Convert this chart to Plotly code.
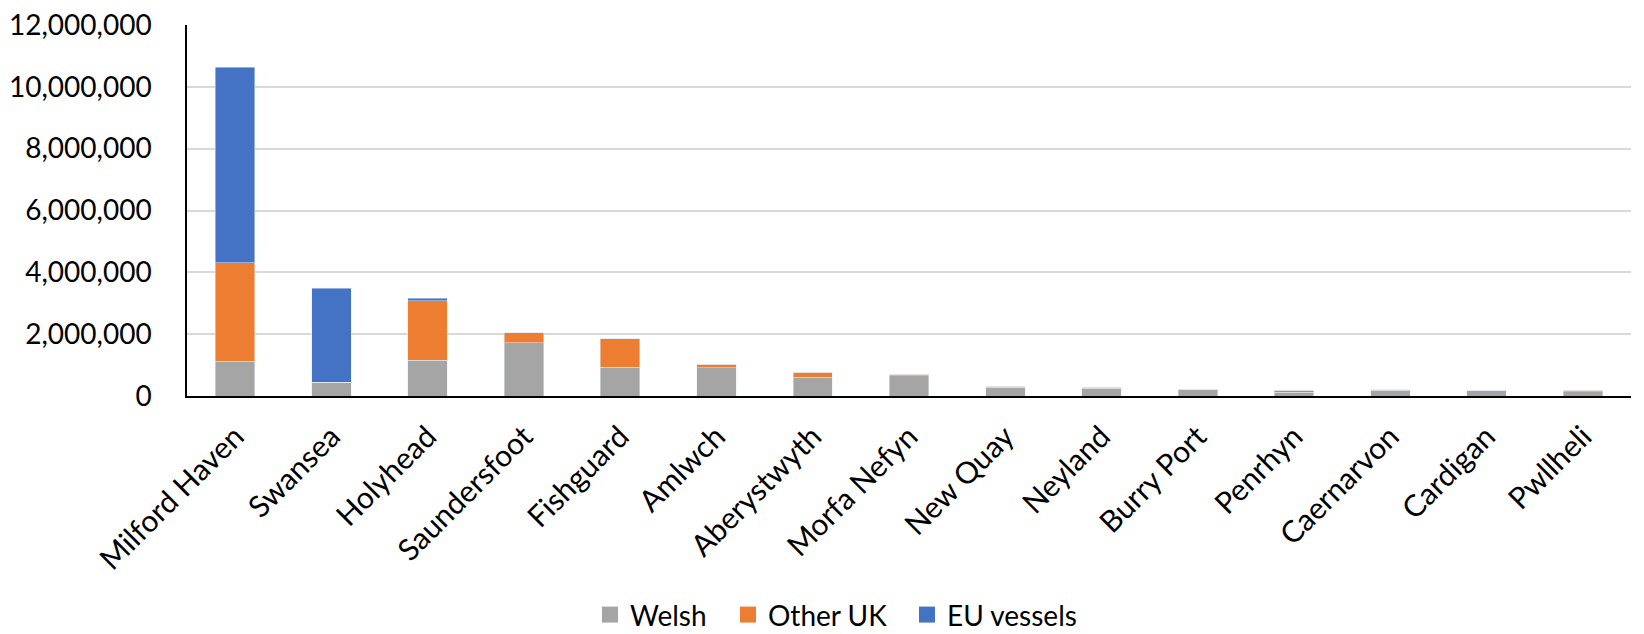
import plotly.graph_objects as go

ports = ["Milford Haven", "Swansea", "Holyhead", "Saundersfoot", "Fishguard", "Amlwch",
         "Aberystwyth", "Morfa Nefyn", "New Quay", "Neyland", "Burry Port", "Penrhyn",
         "Caernarvon", "Cardigan", "Pwllheli"]
welsh = [1130000, 450000, 1160000, 1730000, 930000, 920000, 610000, 660000, 290000,
         250000, 210000, 120000, 180000, 180000, 130000]
other_uk = [3180000, 0, 1920000, 310000, 920000, 110000, 160000, 40000, 30000,
            30000, 10000, 70000, 30000, 0, 60000]
eu_vessels = [6320000, 3030000, 80000, 0, 0, 0, 0, 0, 0, 0, 0, 0, 0, 0, 0]
series_names = ["Welsh", "Other UK", "EU vessels"]
series_colors = ["#A5A5A5", "#ED7D31", "#4472C4"]

y_ticks = [0, 2000000, 4000000, 6000000, 8000000, 10000000, 12000000]

FONT = "Lato, Liberation Sans, sans-serif"
legend_ids = ["legend", "legend2", "legend3"]

fig = go.Figure()
for name, vals, col in zip(series_names, [welsh, other_uk, eu_vessels], series_colors):
    fig.add_trace(go.Bar(x=ports, y=vals, name=name, marker_color=col, showlegend=False))
# legend entries with larger square swatches
for name, col, lid in zip(series_names, series_colors, legend_ids):
    fig.add_trace(go.Scatter(x=[None], y=[None], mode="markers", name=name, legend=lid,
                             marker=dict(symbol="square", size=16, color=col),
                             hoverinfo="skip"))

PL, PW = 187, 1644 - 187 - 13


def leg(px):
    return dict(orientation="h", x=(px - PL) / PW, xanchor="left", y=-0.59, yanchor="middle",
                font=dict(size=28), itemwidth=30, bgcolor="rgba(0,0,0,0)")


fig.update_layout(
    barmode="stack",
    bargap=0.59,
    width=1644, height=634,
    showlegend=True,
    margin=dict(l=PL, r=13, t=25, b=238, autoexpand=False),
    paper_bgcolor="white", plot_bgcolor="white",
    font=dict(family=FONT, size=28, color="#000000"),
    legend=leg(590),
    legend2=leg(728),
    legend3=leg(907),
)
fig.update_xaxes(tickangle=-45, showline=True, linecolor="#000000", linewidth=2,
                 ticks="", tickfont=dict(size=30), automargin=False, ticklabelstandoff=9)
fig.update_yaxes(range=[0, 12000000], tickvals=y_ticks, tickformat=",d",
                 showgrid=True, gridcolor="#D9D9D9", gridwidth=1.5,
                 showline=True, linecolor="#000000", linewidth=1.5, automargin=False,
                 zeroline=False, ticks="", ticklabelstandoff=28, tickfont=dict(size=28))

fig.write_html("out.html")
